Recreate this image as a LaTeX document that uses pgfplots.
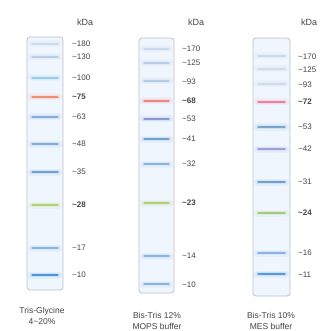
\documentclass[border=0pt]{standalone}
\usepackage{pgfplots}
\pgfplotsset{compat=1.18}
\usepackage{fontspec}
\setmainfont{Liberation Sans}
\definecolor{labgray}{HTML}{444444}
\definecolor{boxfill}{HTML}{EFF6FD}
\definecolor{boxdraw}{HTML}{BEC2C8}
\definecolor{faint}{HTML}{B8C8E2}
\definecolor{lblue}{HTML}{9EBCE0}
\definecolor{cyanb}{HTML}{7EC4E6}
\definecolor{orng}{HTML}{F07A58}
\definecolor{salm}{HTML}{EE6E6E}
\definecolor{pnk}{HTML}{F06A8C}
\definecolor{bl}{HTML}{6A9AD0}
\definecolor{stb}{HTML}{5A90C6}
\definecolor{viol}{HTML}{7080D0}
\definecolor{purp}{HTML}{8A8ACA}
\definecolor{grn}{HTML}{A6C85C}
\definecolor{grn2}{HTML}{98C06C}
\definecolor{mblue}{HTML}{78A6DE}
\definecolor{dblue}{HTML}{3A88DA}
\newcommand{\band}[5]{%
  \addplot[draw=#4, line width=7pt, opacity=0.07, line cap=round] coordinates {(#1,#3) (#2,#3)};
  \addplot[draw=#4, line width=4.5pt, opacity=0.12, line cap=round] coordinates {(#1+1,#3) (#2-1,#3)};
  \addplot[draw=#4, line width=2.6pt, opacity=#5, line cap=round] coordinates {(#1+1.5,#3) (#2-1.5,#3)};
}
\newcommand{\lab}[3]{\node[anchor=west, inner sep=0pt, font=\fontsize{8}{9}\selectfont, text=labgray] at (axis cs:#1,#2) {\textasciitilde#3};}
\newcommand{\blab}[3]{\node[anchor=west, inner sep=0pt, font=\fontsize{8}{9}\selectfont\bfseries, text=labgray] at (axis cs:#1,#2) {\textasciitilde#3};}
\begin{document}
\begin{tikzpicture}
\begin{axis}[
  width=329pt, height=331pt, scale only axis,
  xmin=0, xmax=329, ymin=0, ymax=331, y dir=reverse,
  hide axis, clip=false,
]
\addplot[draw=none] coordinates {(0,0) (329,331)};
% lane boxes
\addplot[fill=boxfill, draw=boxdraw, line width=0.8pt, rounded corners=3pt] coordinates {(27,37) (63,37) (63,290) (27,290)} -- cycle;
\addplot[fill=boxfill, draw=boxdraw, line width=0.8pt, rounded corners=3pt] coordinates {(139,38) (174,38) (174,293) (139,293)} -- cycle;
\addplot[fill=boxfill, draw=boxdraw, line width=0.8pt, rounded corners=3pt] coordinates {(253,38) (290,38) (290,296) (253,296)} -- cycle;
% lane 1: Tris-Glycine 4~20%
\band{31}{59}{44}{faint}{0.5}
\band{31}{59}{57}{lblue}{0.6}
\band{31}{59}{78}{cyanb}{0.75}
\band{31}{59}{97}{orng}{0.8}
\band{31}{59}{117}{bl}{0.75}
\band{31}{59}{144}{bl}{0.75}
\band{31}{59}{172}{stb}{0.8}
\band{31}{59}{205}{grn}{0.8}
\band{31}{59}{248}{mblue}{0.8}
\band{31}{59}{275}{dblue}{0.85}
% lane 2: Bis-Tris 12% MOPS
\band{143}{170}{49}{faint}{0.5}
\band{143}{170}{63}{lblue}{0.6}
\band{143}{170}{81}{lblue}{0.65}
\band{143}{170}{101}{salm}{0.8}
\band{143}{170}{119}{viol}{0.75}
\band{143}{170}{139}{stb}{0.8}
\band{143}{170}{164}{mblue}{0.8}
\band{143}{170}{203}{grn}{0.8}
\band{143}{170}{256}{mblue}{0.8}
\band{143}{170}{284}{mblue}{0.8}
% lane 3: Bis-Tris 10% MES
\band{257}{286}{56}{faint}{0.5}
\band{257}{286}{69}{faint}{0.45}
\band{257}{286}{84}{faint}{0.45}
\band{257}{286}{102}{pnk}{0.8}
\band{257}{286}{127}{stb}{0.75}
\band{257}{286}{149}{purp}{0.75}
\band{257}{286}{182}{stb}{0.8}
\band{257}{286}{213}{grn2}{0.8}
\band{257}{286}{253}{mblue}{0.8}
\band{257}{286}{274}{dblue}{0.8}
% kDa headers
\node[anchor=west, inner sep=0pt, font=\fontsize{9}{10}\selectfont, text=labgray] at (axis cs:77,22) {kDa};
\node[anchor=west, inner sep=0pt, font=\fontsize{9}{10}\selectfont, text=labgray] at (axis cs:188,22) {kDa};
\node[anchor=west, inner sep=0pt, font=\fontsize{9}{10}\selectfont, text=labgray] at (axis cs:301,22) {kDa};
% lane 1 labels
\lab{72}{44}{180}
\lab{72}{57}{130}
\lab{72}{78}{100}
\blab{72}{97}{75}
\lab{72}{117}{63}
\lab{72}{144}{48}
\lab{72}{172}{35}
\blab{72}{205}{28}
\lab{72}{248}{17}
\lab{72}{275}{10}
% lane 2 labels
\lab{182}{49}{170}
\lab{182}{63}{125}
\lab{182}{82}{93}
\blab{182}{101}{68}
\lab{182}{119}{53}
\lab{182}{139}{41}
\lab{182}{164}{32}
\blab{182}{203}{23}
\lab{182}{256}{14}
\lab{182}{285}{10}
% lane 3 labels
\lab{298}{57}{170}
\lab{298}{70}{125}
\lab{298}{85}{93}
\blab{298}{102}{72}
\lab{298}{127}{53}
\lab{298}{149}{42}
\lab{298}{182}{31}
\blab{298}{213}{24}
\lab{298}{253}{16}
\lab{298}{275}{11}
% bottom captions
\node[align=center, inner sep=0pt, font=\fontsize{8.5}{11}\selectfont, text=labgray] at (axis cs:42,316) {Tris-Glycine\\4\textasciitilde20\%};
\node[align=center, inner sep=0pt, font=\fontsize{8.5}{11}\selectfont, text=labgray] at (axis cs:157,321) {Bis-Tris 12\%\\MOPS buffer};
\node[align=center, inner sep=0pt, font=\fontsize{8.5}{11}\selectfont, text=labgray] at (axis cs:271,321) {Bis-Tris 10\%\\MES buffer};
\end{axis}
\end{tikzpicture}
\end{document}
